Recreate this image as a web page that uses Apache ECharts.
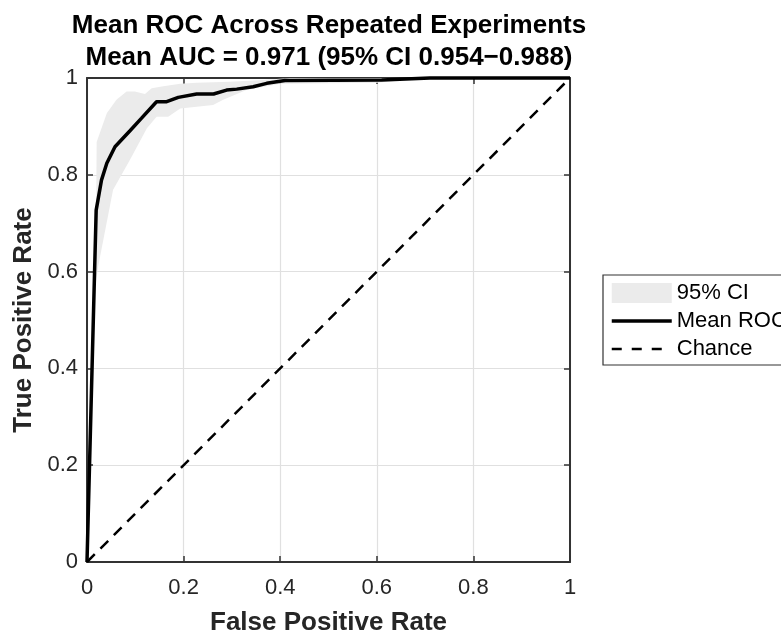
<!DOCTYPE html>
<html>
<head>
<meta charset="utf-8">
<script src="https://cdn.jsdelivr.net/npm/echarts@6/dist/echarts.min.js"></script>
<style>
html,body{margin:0;padding:0;background:#fff;}
#chart{width:781px;height:633px;}
</style>
</head>
<body>
<div id="chart"></div>
<script>
// ---- Data ----
const titleLines = ['Mean ROC Across Repeated Experiments', 'Mean AUC = 0.971 (95% CI 0.954\u22120.988)'];
const axisTicks = [0, 0.2, 0.4, 0.6, 0.8, 1];

const meanFpr = [0, 0.019, 0.030, 0.041, 0.058, 0.089, 0.113, 0.144, 0.165, 0.189, 0.227, 0.262, 0.289, 0.310, 0.344, 0.372, 0.410, 0.610, 0.710, 1.0];
const meanTpr = [0, 0.727, 0.789, 0.824, 0.858, 0.891, 0.917, 0.951, 0.951, 0.960, 0.967, 0.967, 0.975, 0.977, 0.982, 0.989, 0.995, 0.996, 1.0, 1.0];

const upperFpr = [0, 0.019, 0.020, 0.041, 0.061, 0.082, 0.099, 0.120, 0.134, 0.158, 0.193, 0.227, 0.296, 0.365, 0.420, 1.0];
const upperTpr = [0, 0.727, 0.868, 0.927, 0.955, 0.972, 0.972, 0.967, 0.979, 0.983, 0.988, 0.990, 0.992, 0.996, 1.0, 1.0];

const lowerFpr = [0, 0.016, 0.023, 0.054, 0.089, 0.124, 0.144, 0.168, 0.193, 0.261, 0.282, 0.330, 0.400, 0.600, 0.700, 1.0];
const lowerTpr = [0, 0.560, 0.610, 0.769, 0.831, 0.896, 0.920, 0.920, 0.937, 0.944, 0.955, 0.975, 0.988, 0.990, 1.0, 1.0];

const chanceFpr = [0, 1];
const chanceTpr = [0, 1];

// ---- Build ----
const FONT = '"Liberation Sans", Arial, Helvetica, sans-serif';
const AX = '#333333';
const zip = (a, b) => a.map((v, i) => [v, b[i]]);
const meanData = zip(meanFpr, meanTpr);
const chanceData = zip(chanceFpr, chanceTpr);
const bandPts = zip(upperFpr, upperTpr).concat(zip(lowerFpr, lowerTpr).reverse());

const chart = echarts.init(document.getElementById('chart'), null, {renderer: 'canvas'});
const grid = {left: 87, right: 211, top: 78, bottom: 71, containLabel: false, outerBoundsMode: 'none'};

function xAxisCfg(pos, main) {
  return {
    type: 'value', position: pos, min: axisTicks[0], max: axisTicks[axisTicks.length - 1],
    interval: axisTicks[1] - axisTicks[0],
    name: main ? 'False Positive Rate' : '', nameLocation: 'middle', nameGap: 48,
    nameTextStyle: {fontFamily: FONT, fontSize: 26, fontWeight: 'bold', color: '#262626'},
    axisLine: {show: true, onZero: false, lineStyle: {color: AX, width: 2}},
    axisTick: {show: true, inside: true, length: 6, lineStyle: {color: AX, width: 1.5}},
    axisLabel: {show: main, margin: 15, fontFamily: FONT, fontSize: 22, color: '#262626'},
    splitLine: {show: main, lineStyle: {color: '#e0e0e0', width: 1.2}}
  };
}
function yAxisCfg(pos, main) {
  return {
    type: 'value', position: pos, min: axisTicks[0], max: axisTicks[axisTicks.length - 1],
    interval: axisTicks[1] - axisTicks[0],
    name: main ? 'True Positive Rate' : '', nameLocation: 'middle', nameGap: 49,
    nameTextStyle: {fontFamily: FONT, fontSize: 26, fontWeight: 'bold', color: '#262626'},
    axisLine: {show: true, onZero: false, lineStyle: {color: AX, width: 2}},
    axisTick: {show: true, inside: true, length: 6, lineStyle: {color: AX, width: 1.5}},
    axisLabel: {show: main, margin: 9, fontFamily: FONT, fontSize: 22, color: '#262626'},
    splitLine: {show: main, lineStyle: {color: '#e0e0e0', width: 1.2}}
  };
}

const hiddenSymbol = {color: 'rgba(0,0,0,0)', opacity: 0, borderWidth: 0};

const option = {
  animation: false,
  backgroundColor: '#fff',
  grid: grid,
  graphic: [
    {type: 'text', x: 329, y: 26, style: {text: titleLines[0], font: 'bold 26px ' + FONT, fill: '#000', align: 'center', verticalAlign: 'middle'}},
    {type: 'text', x: 329, y: 58, style: {text: titleLines[1], font: 'bold 26px ' + FONT, fill: '#000', align: 'center', verticalAlign: 'middle'}}
  ],
  legend: {
    orient: 'vertical', left: 603, top: 275,
    itemWidth: 60, itemHeight: 20, itemGap: 6,
    padding: [7, 40, 5, 7],
    borderColor: AX, borderWidth: 1.2, backgroundColor: '#fff',
    textStyle: {fontFamily: FONT, fontSize: 22, color: '#000'},
    data: [
      {name: '95% CI', icon: 'rect'},
      {name: 'Mean ROC', itemStyle: hiddenSymbol, lineStyle: {width: 3.5, color: '#000'}},
      {name: 'Chance', itemStyle: hiddenSymbol, lineStyle: {width: 2.5, color: '#000', type: [10, 10]}}
    ]
  },
  xAxis: [xAxisCfg('bottom', true), xAxisCfg('top', false)],
  yAxis: [yAxisCfg('left', true), yAxisCfg('right', false)],
  series: [
    {
      type: 'custom', name: '95% CI', silent: true, z: 1,
      itemStyle: {color: '#ebebeb'},
      data: [[0, 0]],
      renderItem: function (params, api) {
        const points = bandPts.map(p => api.coord(p));
        return {type: 'polygon', shape: {points: points}, style: {fill: '#ebebeb', stroke: null}};
      }
    },
    {
      type: 'line', name: 'Mean ROC', data: meanData, showSymbol: false, symbol: 'none',
      lineStyle: {color: '#000', width: 3.5}, itemStyle: {color: '#000'}, z: 4, clip: false
    },
    {
      type: 'line', name: 'Chance', data: chanceData, showSymbol: false, symbol: 'none',
      lineStyle: {color: '#000', width: 2.5, type: [11, 8]}, itemStyle: {color: '#000'}, z: 3
    }
  ]
};
chart.setOption(option);
</script>
</body>
</html>
